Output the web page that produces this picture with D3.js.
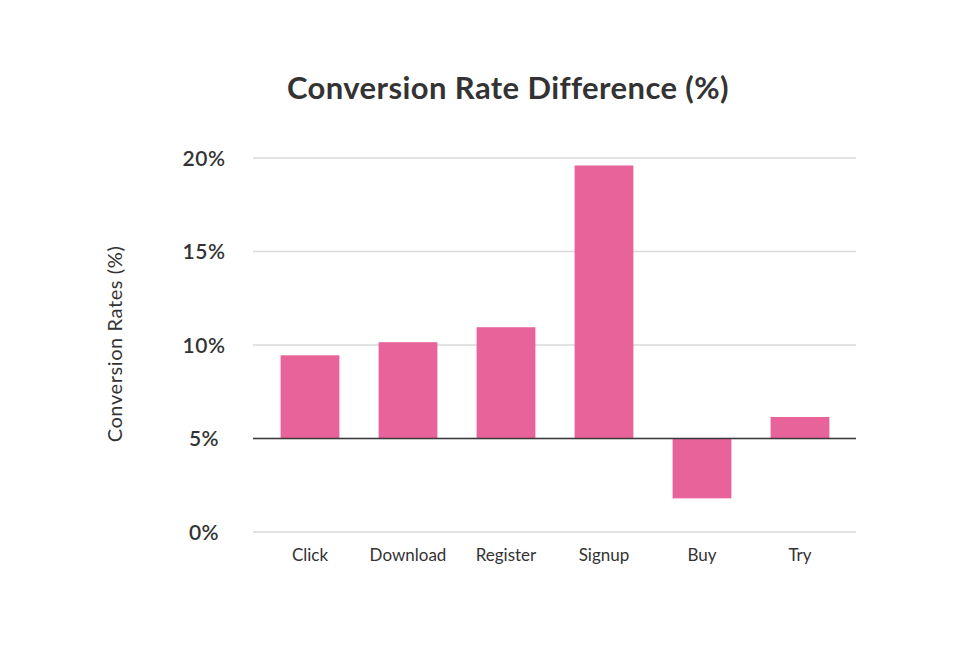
<!DOCTYPE html>
<html lang="en">
<head>
  <meta charset="UTF-8">
  <title>Conversion Rate Difference</title>
  <style>
    body { margin: 0; background: #fff; }
  </style>
</head>
<body>

  <svg id="svg" width="960" height="670"></svg>

  <script src="https://d3js.org/d3.v7.min.js"></script>
  <script>
    const categories = ['Click', 'Download', 'Register', 'Signup', 'Buy', 'Try']
    const rates = [9.45, 10.15, 10.95, 19.6, 1.8, 6.15]
    const yTicks = [0, 5, 10, 15, 20]
    const baseline = 5

    const data = categories.map((c, i) => ({ label: c, value: rates[i] }))

    const svg = d3.select('#svg')
    const font = 'Lato, "Open Sans", sans-serif'

    const xScale = d3.scaleBand()
      .domain(categories)
      .range([261, 849])
      .paddingInner(0.4)
      .paddingOuter(0.2)

    const yScale = d3.scaleLinear()
      .domain([0, 20])
      .range([532, 158])

    // --------------- Grid ---------------
    svg.append('g')
      .selectAll('line')
      .data(yTicks)
      .enter()
      .append('line')
      .attr('x1', 253)
      .attr('x2', 856)
      .attr('y1', d => yScale(d))
      .attr('y2', d => yScale(d))
      .attr('stroke', '#d9d9d9')
      .attr('stroke-width', 1.5)

    // y tick labels
    svg.append('g')
      .selectAll('text')
      .data(yTicks)
      .enter()
      .append('text')
      .text(d => d + '%')
      .attr('x', 204)
      .attr('y', d => yScale(d))
      .attr('dy', '0.36em')
      .attr('text-anchor', 'middle')
      .style('font-family', font)
      .style('font-size', '21px')
      .style('font-weight', 600)
      .style('letter-spacing', '0.5px')
      .attr('fill', '#333')

    // --------------- Bars ---------------
    svg.append('g')
      .selectAll('rect')
      .data(data)
      .enter()
      .append('rect')
      .attr('x', d => xScale(d.label))
      .attr('width', xScale.bandwidth())
      .attr('y', d => yScale(Math.max(d.value, baseline)))
      .attr('height', d => Math.abs(yScale(d.value) - yScale(baseline)))
      .attr('fill', '#e8639a')

    // baseline
    svg.append('line')
      .attr('x1', 253)
      .attr('x2', 856)
      .attr('y1', yScale(baseline))
      .attr('y2', yScale(baseline))
      .attr('stroke', '#3a3a3f')
      .attr('stroke-width', 1.5)

    // x labels
    svg.append('g')
      .selectAll('text')
      .data(categories)
      .enter()
      .append('text')
      .text(d => d)
      .attr('x', d => xScale(d) + xScale.bandwidth() / 2)
      .attr('y', 561)
      .attr('text-anchor', 'middle')
      .style('font-family', font)
      .style('font-size', '17px')
      .attr('fill', '#333')

    // y axis title
    svg.append('text')
      .text('Conversion Rates (%)')
      .attr('transform', 'translate(122,344) rotate(-90)')
      .attr('text-anchor', 'middle')
      .style('font-family', font)
      .style('font-size', '20px')
      .style('letter-spacing', '0.6px')
      .attr('fill', '#333')

    // title
    svg.append('text')
      .text('Conversion Rate Difference (%)')
      .attr('x', 508)
      .attr('y', 99)
      .attr('text-anchor', 'middle')
      .style('font-family', font)
      .style('font-size', '31px')
      .style('font-weight', 700)
      .style('letter-spacing', '0.4px')
      .attr('fill', '#333')
  </script>
</body>
</html>
